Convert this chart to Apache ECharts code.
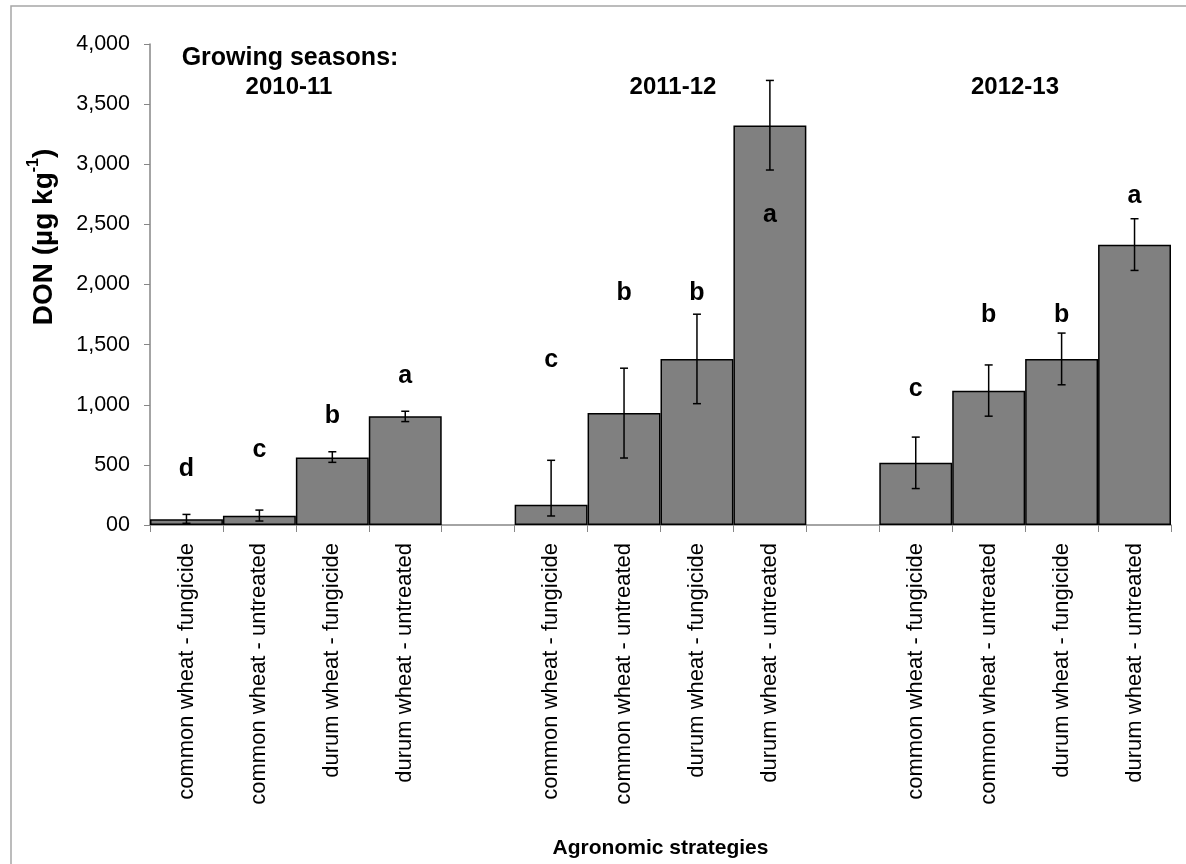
<!DOCTYPE html>
<html>
<head>
<meta charset="utf-8">
<title>DON by agronomic strategy</title>
<script src="https://cdn.jsdelivr.net/npm/echarts@6/dist/echarts.min.js"></script>
<style>
  html, body { margin: 0; padding: 0; background: #fff; }
  #main { width: 1186px; height: 864px; }
</style>
</head>
<body>
<div id="main"></div>
<script>
// categories (empty slots separate the growing seasons)
var categories = [
  'common wheat - fungicide', 'common wheat - untreated', 'durum wheat - fungicide', 'durum wheat - untreated', '',
  'common wheat - fungicide', 'common wheat - untreated', 'durum wheat - fungicide', 'durum wheat - untreated', '',
  'common wheat - fungicide', 'common wheat - untreated', 'durum wheat - fungicide', 'durum wheat - untreated'
];
var seasons = ['2010-11', '2011-12', '2012-13'];

// DON means (µg/kg)
var donMean = [47, 77, 562, 905, null, 169, 932, 1381, 3322, null, 518, 1117, 1381, 2330];
// error bar ends
var errHigh = [88, 124, 609, 946, null, 538, 1304, 1753, 3697, null, 731, 1331, 1596, 2547];
var errLow  = [14, 33, 521, 860, null, 75, 557, 1009, 2952, null, 303, 905, 1166, 2117];

// significance letters and the height they sit at
var letters = ['d', 'c', 'b', 'a', '', 'c', 'b', 'b', 'a', '', 'c', 'b', 'b', 'a'];
var letterY = [462, 620, 905, 1235, null, 1368, 1925, 1925, 2578, null, 1133, 1745, 1745, 2732];

var FONT = '"Liberation Sans", Arial, sans-serif';

var errData = [];
var letterData = [];
for (var i = 0; i < categories.length; i++) {
  if (donMean[i] != null) {
    errData.push([i, errLow[i], errHigh[i]]);
    letterData.push([i, letterY[i]]);
  }
}

var myChart = echarts.init(document.getElementById('main'));

var option = {
  animation: false,
  backgroundColor: '#fff',
  textStyle: { fontFamily: FONT, color: '#000' },
  grid: { left: 150, right: 15, top: 44, bottom: 336 },
  xAxis: {
    type: 'category',
    data: categories,
    boundaryGap: true,
    name: 'Agronomic strategies',
    nameLocation: 'middle',
    nameGap: 313,
    nameTextStyle: { fontFamily: FONT, fontWeight: 'bold', fontSize: 21, color: '#000' },
    axisLine: { lineStyle: { color: '#868686', width: 1.5 } },
    axisTick: { show: true, length: 7, lineStyle: { color: '#868686', width: 1 } },
    axisLabel: {
      interval: 0,
      rotate: 90,
      margin: 18,
      fontFamily: FONT,
      fontSize: 22,
      color: '#000'
    }
  },
  yAxis: {
    type: 'value',
    min: 0,
    max: 4000,
    interval: 500,
    splitLine: { show: false },
    axisLine: { show: true, lineStyle: { color: '#868686', width: 1.5 } },
    axisTick: { show: true, length: 6, lineStyle: { color: '#868686' } },
    axisLabel: {
      margin: 20,
      fontFamily: FONT,
      fontSize: 21.5,
      color: '#000',
      formatter: function (v) {
        if (v === 0) return '00';
        return v.toLocaleString('en-US');
      }
    }
  },
  series: [
    {
      name: 'DON',
      type: 'bar',
      data: donMean,
      barWidth: '100%',
      barGap: '0%',
      itemStyle: { color: '#808080', borderColor: '#000', borderWidth: 1.5 },
      emphasis: { disabled: true }
    },
    {
      name: 'error',
      type: 'custom',
      data: errData,
      z: 5,
      renderItem: function (params, api) {
        var x = api.value(0);
        var lo = api.coord([x, api.value(1)]);
        var hi = api.coord([x, api.value(2)]);
        var cap = 4;
        var style = { stroke: '#000', lineWidth: 1.5 };
        return {
          type: 'group',
          children: [
            { type: 'line', shape: { x1: hi[0], y1: hi[1], x2: lo[0], y2: lo[1] }, style: style },
            { type: 'line', shape: { x1: hi[0] - cap, y1: hi[1], x2: hi[0] + cap, y2: hi[1] }, style: style },
            { type: 'line', shape: { x1: lo[0] - cap, y1: lo[1], x2: lo[0] + cap, y2: lo[1] }, style: style }
          ]
        };
      }
    },
    {
      name: 'letters',
      type: 'scatter',
      data: letterData,
      symbolSize: 1,
      itemStyle: { color: 'rgba(0,0,0,0)' },
      emphasis: { disabled: true },
      z: 6,
      label: {
        show: true,
        position: 'inside',
        fontFamily: FONT,
        fontWeight: 'bold',
        fontSize: 25,
        color: '#000',
        opacity: 1,
        textBorderWidth: 0,
        formatter: function (p) { return letters[p.value[0]]; }
      }
    }
  ],
  graphic: [
    {
      type: 'rect',
      shape: { x: 11, y: 6, width: 1400, height: 1000 },
      style: { fill: 'none', stroke: '#a6a6a6', lineWidth: 1.5 },
      silent: true
    },
    {
      type: 'text',
      x: 42, y: 237,
      rotation: Math.PI / 2,
      style: {
        text: '{b|DON (µg kg}{s|-1}{b|)}',
        align: 'center',
        verticalAlign: 'middle',
        rich: {
          b: { fontFamily: FONT, fontWeight: 'bold', fontSize: 28, fill: '#000', lineHeight: 32, verticalAlign: 'bottom' },
          s: { fontFamily: FONT, fontWeight: 'bold', fontSize: 16, fill: '#000', lineHeight: 32, verticalAlign: 'top', padding: [0, 0, 12, 0] }
        }
      }
    },
    {
      type: 'text', x: 290, y: 58,
      style: { text: 'Growing seasons:', align: 'center', verticalAlign: 'middle', fontFamily: FONT, fontWeight: 'bold', fontSize: 25, fill: '#000' }
    },
    {
      type: 'text', x: 289, y: 87,
      style: { text: seasons[0], align: 'center', verticalAlign: 'middle', fontFamily: FONT, fontWeight: 'bold', fontSize: 24, fill: '#000' }
    },
    {
      type: 'text', x: 673, y: 87,
      style: { text: seasons[1], align: 'center', verticalAlign: 'middle', fontFamily: FONT, fontWeight: 'bold', fontSize: 24, fill: '#000' }
    },
    {
      type: 'text', x: 1015, y: 87,
      style: { text: seasons[2], align: 'center', verticalAlign: 'middle', fontFamily: FONT, fontWeight: 'bold', fontSize: 24, fill: '#000' }
    }
  ]
};

myChart.setOption(option);
</script>
</body>
</html>
